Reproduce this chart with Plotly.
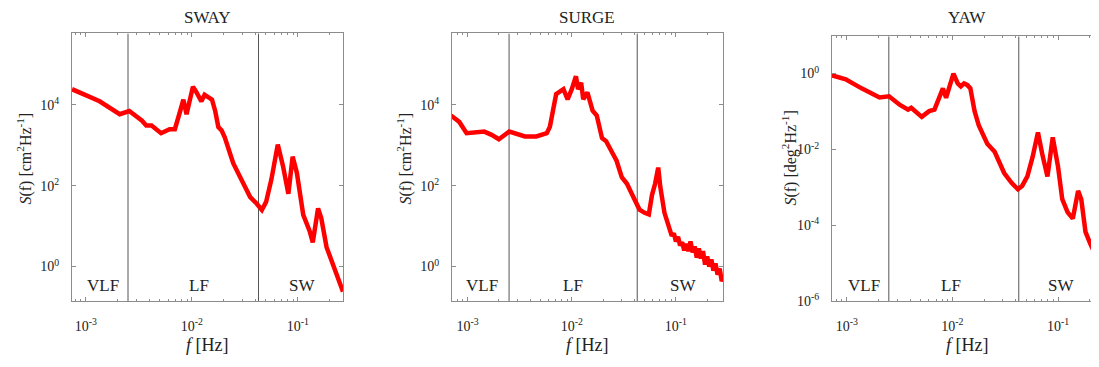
import numpy as np
import plotly.graph_objects as go

# the page body adds an 8 px margin, so the figure is drawn 8 px in from the corner
OFF = 8
W, H = 1099 - OFF, 367 - OFF

# ---------------- data (log10 f [Hz], log10 S) ----------------
sway_logf = [-3.13, -2.96, -2.87, -2.68, -2.59, -2.47, -2.43, -2.38, -2.29, -2.21, -2.16,
             -2.11, -2.08, -2.05, -1.99, -1.96, -1.91, -1.88, -1.86, -1.81, -1.78, -1.75,
             -1.72, -1.69, -1.64, -1.61, -1.55, -1.50, -1.45, -1.39, -1.34, -1.30, -1.25,
             -1.19, -1.14, -1.09, -1.05, -1.01, -0.95, -0.89, -0.86, -0.81, -0.78, -0.73,
             -0.67, -0.61, -0.575]
sway_logS = [4.39, 4.21, 4.09, 3.77, 3.85, 3.61, 3.49, 3.49, 3.30, 3.40, 3.40,
             3.85, 4.13, 3.77, 4.45, 4.33, 4.09, 4.25, 4.21, 4.13, 3.85, 3.45,
             3.37, 3.20, 2.80, 2.56, 2.24, 2.00, 1.72, 1.56, 1.40, 1.60, 2.16,
             3.02, 2.48, 1.80, 2.72, 2.32, 1.28, 0.88, 0.60, 1.44, 1.20, 0.48,
             0.05, -0.33, -0.62]

surge_logf = [-3.16, -3.08, -3.01, -2.84, -2.77, -2.70, -2.60, -2.45, -2.34, -2.24, -2.21,
              -2.15, -2.08, -2.04, -2.00, -1.96, -1.94, -1.91, -1.89, -1.86, -1.85, -1.80,
              -1.76, -1.71, -1.67, -1.62, -1.57, -1.52, -1.47, -1.41, -1.35, -1.30, -1.26,
              -1.23, -1.20, -1.17, -1.15, -1.11, -1.08, -1.06, -1.04, -1.02, -1.00, -0.98,
              -0.96, -0.94, -0.92, -0.90, -0.88, -0.86, -0.84, -0.82, -0.80, -0.78, -0.76,
              -0.74, -0.72, -0.70, -0.68, -0.66, -0.64, -0.62, -0.60, -0.58, -0.56, -0.548]
surge_logS = [3.74, 3.58, 3.30, 3.34, 3.26, 3.15, 3.34, 3.22, 3.22, 3.30, 3.46,
              4.27, 4.39, 4.14, 4.39, 4.71, 4.39, 4.55, 4.14, 4.31, 4.31, 3.86,
              3.74, 3.18, 3.10, 2.86, 2.62, 2.21, 2.05, 1.73, 1.41, 1.33, 1.29,
              1.77, 2.05, 2.45, 1.97, 1.33, 1.05, 0.90, 0.76, 0.82, 0.62, 0.74,
              0.52, 0.60, 0.40, 0.56, 0.38, 0.62, 0.35, 0.50, 0.22, 0.45, 0.20,
              0.38, 0.05, 0.25, 0.00, 0.18, -0.10, 0.08, -0.20, -0.05, -0.36, -0.30]

yaw_logf = [-3.15, -3.01, -2.86, -2.69, -2.60, -2.50, -2.42, -2.39, -2.29, -2.22, -2.17,
            -2.09, -2.06, -1.99, -1.95, -1.92, -1.89, -1.86, -1.83, -1.79, -1.75, -1.71,
            -1.67, -1.60, -1.55, -1.51, -1.44, -1.38, -1.34, -1.29, -1.24, -1.19, -1.15,
            -1.10, -1.05, -1.00, -0.96, -0.91, -0.86, -0.81, -0.78, -0.74, -0.69, -0.62,
            -0.58]
yaw_logS = [-0.04, -0.15, -0.39, -0.63, -0.60, -0.82, -0.95, -0.90, -1.14, -0.99, -0.95,
            -0.39, -0.64, 0.00, -0.26, -0.34, -0.26, -0.30, -0.39, -0.99, -1.37, -1.63,
            -1.85, -2.06, -2.36, -2.62, -2.88, -3.05, -2.96, -2.71, -2.19, -1.55, -2.11,
            -2.71, -1.68, -2.45, -3.31, -3.65, -3.82, -3.09, -3.31, -4.17, -4.51, -4.94,
            -5.15]

titles = ["SWAY", "SURGE", "YAW"]
region_labels = ["VLF", "LF", "SW"]
region_bounds_hz = [0.0025, 0.0425]
xtick_vals = [1e-3, 1e-2, 1e-1]
xtick_text = ["10<sup>-3</sup>", "10<sup>-2</sup>", "10<sup>-1</sup>"]
ytick_vals_cm = [1e0, 1e2, 1e4]
ytick_text_cm = ["10<sup>0</sup>", "10<sup>2</sup>", "10<sup>4</sup>"]
ytick_vals_deg = [1e-6, 1e-4, 1e-2, 1e0]
ytick_text_deg = ["10<sup>-6</sup>", "10<sup>-4</sup>", "10<sup>-2</sup>", "10<sup>0</sup>"]
ylabels = ["<i>S</i>(f) [cm<sup>2</sup>Hz<sup>-1</sup>]",
           "<i>S</i>(f) [cm<sup>2</sup>Hz<sup>-1</sup>]",
           "<i>S</i>(f) [deg<sup>2</sup>Hz<sup>-1</sup>]"]

# ---------------- layout geometry (window pixels) ----------------
panels = [
    dict(x0=72, x1=343, y0=34, y1=308, xr=[-3.13, -0.575], yr=[-0.86, 5.77],
         f=sway_logf, s=sway_logS, yt=(ytick_vals_cm, ytick_text_cm),
         labx=[103, 199, 302], ytx=25, xtx=207),
    dict(x0=452, x1=723, y0=34, y1=308, xr=[-3.15, -0.548], yr=[-0.86, 5.77],
         f=surge_logf, s=surge_logS, yt=(ytick_vals_cm, ytick_text_cm),
         labx=[482, 573, 683], ytx=405, xtx=587),
    dict(x0=832, x1=1099, y0=37, y1=308, xr=[-3.14, -0.612], yr=[-6.0, 0.98],
         f=yaw_logf, s=yaw_logS, yt=(ytick_vals_deg, ytick_text_deg),
         labx=[864, 951, 1061], ytx=790, xtx=967),
]

FONT = "Liberation Serif, Times New Roman, serif"
TXT = "#222222"
FRAME = "#8c8c8c"

def px(x):
    return (x - OFF) / W

def py(y):
    return 1 - (y - OFF) / H

fig = go.Figure()
annotations = []
layout = {}

for i, p in enumerate(panels):
    n = "" if i == 0 else str(i + 1)
    xa, ya = "x" + n, "y" + n
    for b in region_bounds_hz:
        fig.add_trace(go.Scatter(x=[b, b], y=[10 ** p["yr"][0], 10 ** p["yr"][1]],
                                 mode="lines", line=dict(color="#555555", width=1),
                                 xaxis=xa, yaxis=ya, hoverinfo="skip", showlegend=False))
    fig.add_trace(go.Scatter(x=np.power(10.0, p["f"]), y=np.power(10.0, p["s"]),
                             mode="lines", line=dict(color="#ff0000", width=4.5),
                             xaxis=xa, yaxis=ya, showlegend=False))
    layout["xaxis" + n] = dict(
        type="log", range=p["xr"], domain=[px(p["x0"]), min(px(p["x1"]), 1.0)], anchor=ya,
        tickmode="array", tickvals=xtick_vals, ticktext=xtick_text,
        ticks="inside", ticklen=4, tickcolor=FRAME, showgrid=False, zeroline=False,
        showline=True, linecolor=FRAME, linewidth=1, mirror="allticks",
        ticklabelstandoff=12,
        minor=dict(ticks="inside", ticklen=2, tickcolor=FRAME, dtick="D1", showgrid=False),
        tickfont=dict(family=FONT, size=14, color=TXT))
    layout["yaxis" + n] = dict(
        type="log", range=p["yr"], domain=[py(p["y1"]), py(p["y0"])], anchor=xa,
        tickmode="array", tickvals=p["yt"][0], ticktext=p["yt"][1],
        ticks="inside", ticklen=4, tickcolor=FRAME, showgrid=False, zeroline=False,
        showline=True, linecolor=FRAME, linewidth=1,
        mirror=("allticks" if i < 2 else False), ticklabelstandoff=9,
        tickfont=dict(family=FONT, size=14, color=TXT))
    annotations.append(dict(text=titles[i], x=px(p["xtx"]), y=py(18), xref="paper", yref="paper",
                            showarrow=False, font=dict(family=FONT, size=17, color=TXT),
                            xanchor="center", yanchor="middle"))
    annotations.append(dict(text="<i>f</i> [Hz]", x=px(p["xtx"]), y=py(353), xref="paper", yref="paper",
                            showarrow=False, font=dict(family=FONT, size=18, color=TXT),
                            xanchor="center", yanchor="middle"))
    annotations.append(dict(text=ylabels[i], x=px(p["ytx"]), y=py(162), xref="paper", yref="paper",
                            showarrow=False, textangle=-90, font=dict(family=FONT, size=16, color=TXT),
                            xanchor="center", yanchor="middle"))
    for lab, lx in zip(region_labels, p["labx"]):
        annotations.append(dict(text=lab, x=px(lx), y=py(292), xref="paper", yref="paper",
                                showarrow=False, font=dict(family=FONT, size=17, color=TXT),
                                xanchor="center", yanchor="middle"))

fig.update_layout(width=W, height=H, autosize=False,
                  margin=dict(l=0, r=0, t=0, b=0),
                  paper_bgcolor="white", plot_bgcolor="white",
                  annotations=annotations, **layout)

fig.write_html("out.html")
